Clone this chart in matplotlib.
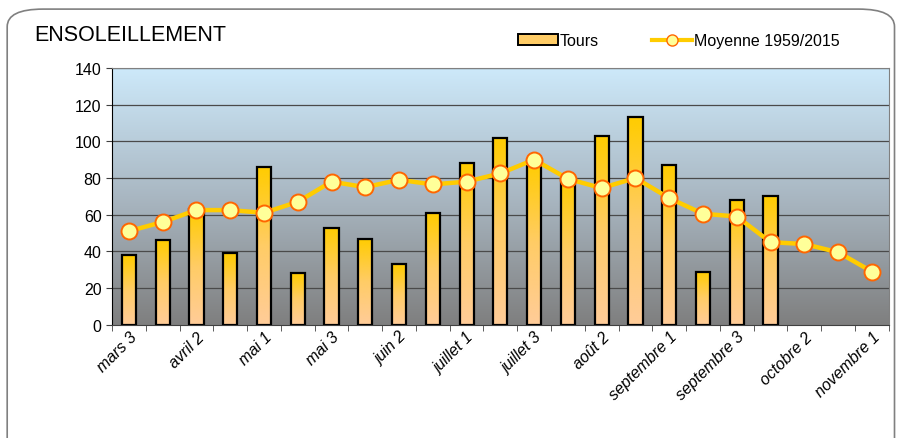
import matplotlib
matplotlib.use("Agg")
import matplotlib.pyplot as plt
import matplotlib.patches as mpatches
import matplotlib.transforms as mtransforms
from matplotlib.colors import LinearSegmentedColormap
from matplotlib.lines import Line2D
import numpy as np

plt.rcParams['font.family'] = ['Liberation Sans', 'DejaVu Sans']

decades = ["mars 3", "avril 1", "avril 2", "avril 3", "mai 1", "mai 2", "mai 3",
           "juin 1", "juin 2", "juin 3", "juillet 1", "juillet 2", "juillet 3",
           "août 1", "août 2", "août 3", "septembre 1", "septembre 2", "septembre 3",
           "octobre 1", "octobre 2", "octobre 3", "novembre 1"]
tours = [38, 46, 63, 39, 86, 28, 53, 47, 33, 61, 88, 102, 89, 79, 103, 113,
         87, 29, 68, 70, 0, 0, 0]
moyenne = [51, 56, 62.5, 62.5, 61, 67, 78, 75, 79, 76.5, 78, 82.5, 90, 79.5,
           74.5, 80, 69, 60.5, 59, 45, 44, 39.5, 29]

fig = plt.figure(figsize=(8.99, 4.39), dpi=100)

# rounded frame around the whole chart
frame = mpatches.FancyBboxPatch((0.008, -0.05), 0.987, 1.027, transform=fig.transFigure,
                                boxstyle="round,pad=0,rounding_size=0.04",
                                fc="white", ec="#808080", lw=1.2, zorder=-1)
fig.patches.append(frame)

ax = fig.add_axes([0.1246, 0.258, 0.864, 0.585])
x = np.arange(len(decades))

# gradient background
bg = LinearSegmentedColormap.from_list("bg", ["#7f7f7f", "#a9b7c2", "#cde9fa"])
grad = np.linspace(0, 1, 256).reshape(-1, 1)
ax.imshow(grad, cmap=bg, aspect="auto", extent=[0, 1, 0, 1], origin="lower",
          transform=ax.transAxes, zorder=0)

for yv in range(20, 141, 20):
    ax.axhline(yv, color="#4a4a4a", lw=0.9, zorder=1)

# bars with vertical gradient
bar_cmap = LinearSegmentedColormap.from_list("bars", ["#ffcc99", "#ffcc66", "#ffcc00"])
bars = ax.bar(x, tours, width=0.42, color="none", edgecolor="black", lw=1.6, zorder=3)
for b in bars:
    h = b.get_height()
    if h <= 0:
        b.set_linewidth(0)
        continue
    im = ax.imshow(grad, cmap=bar_cmap, aspect="auto", origin="lower",
                   extent=[b.get_x(), b.get_x() + b.get_width(), 0, h], zorder=2)
    im.set_clip_path(b)

ax.plot(x, moyenne, color="#ffcc00", lw=3.2, marker="o", markersize=11.5,
        markerfacecolor="#ffff99", markeredgecolor="#ff6600", markeredgewidth=1.4,
        zorder=4)

ax.set_xlim(-0.5, len(decades) - 0.5)
ax.set_ylim(0, 140)
ax.set_yticks(range(0, 141, 20))
ax.tick_params(axis="y", labelsize=11.5, length=4, color="#404040")
ax.set_xticks(x[::2])
ax.set_xticklabels(decades[::2], rotation=45, ha="right", rotation_mode="anchor",
                   fontstyle="italic", fontsize=11.5)
shift = mtransforms.ScaledTranslation(6 / 100, 0, fig.dpi_scale_trans)
for lab in ax.get_xticklabels():
    lab.set_transform(lab.get_transform() + shift)
ax.set_xticks(np.arange(-0.5, len(decades), 1), minor=True)
ax.tick_params(axis="x", which="major", length=0, pad=3)
ax.tick_params(axis="x", which="minor", length=4, color="#404040")
for side in ["top", "right"]:
    ax.spines[side].set_color("#808080")
ax.spines["left"].set_color("black")
ax.spines["bottom"].set_color("#404040")

fig.text(0.038, 0.92, "ENSOLEILLEMENT", fontsize=15.5, va="center")

tours_patch = mpatches.Patch(facecolor="#ffcc66", edgecolor="black", lw=1.4, label="Tours")
moy_line = Line2D([], [], color="#ffcc00", lw=3, marker="o", markersize=8,
                  markerfacecolor="#ffff99", markeredgecolor="#ff6600",
                  label="Moyenne 1959/2015")
fig.legend(handles=[tours_patch, moy_line], loc="center", ncol=2, frameon=False,
           bbox_to_anchor=(0.755, 0.905), fontsize=11.5, columnspacing=3.3,
           handlelength=2.5, handletextpad=0.15)

fig.savefig("out.png", dpi=100)
